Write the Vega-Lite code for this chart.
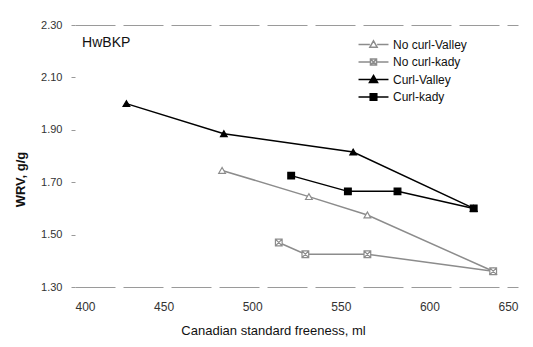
{
  "$schema": "https://vega.github.io/schema/vega-lite/v6.json",
  "width": 443,
  "height": 262,
  "autosize": "none",
  "padding": {"left": 75, "top": 25, "right": 15, "bottom": 60},
  "background": "white",
  "config": {
    "view": {"stroke": null},
    "font": "Liberation Sans",
    "axis": {"labelFont": "Liberation Sans", "titleFont": "Liberation Sans"}
  },
  "datasets": {
    "wrv": [
      {"series": "No curl-Valley", "csf": 483, "wrv": 1.745},
      {"series": "No curl-Valley", "csf": 532, "wrv": 1.645},
      {"series": "No curl-Valley", "csf": 565, "wrv": 1.575},
      {"series": "No curl-Valley", "csf": 636, "wrv": 1.36},
      {"series": "No curl-kady", "csf": 515, "wrv": 1.47},
      {"series": "No curl-kady", "csf": 530, "wrv": 1.425},
      {"series": "No curl-kady", "csf": 565, "wrv": 1.425},
      {"series": "No curl-kady", "csf": 636, "wrv": 1.36},
      {"series": "Curl-Valley", "csf": 429, "wrv": 2.0},
      {"series": "Curl-Valley", "csf": 484, "wrv": 1.885},
      {"series": "Curl-Valley", "csf": 557, "wrv": 1.815},
      {"series": "Curl-Valley", "csf": 625, "wrv": 1.6},
      {"series": "Curl-kady", "csf": 522, "wrv": 1.725},
      {"series": "Curl-kady", "csf": 554, "wrv": 1.665},
      {"series": "Curl-kady", "csf": 582, "wrv": 1.665},
      {"series": "Curl-kady", "csf": 625, "wrv": 1.6}
    ],
    "note": [{"label": "HwBKP", "csf": 404, "wrv": 2.23}]
  },
  "layer": [
    {
      "data": {"name": "wrv"},
      "mark": {"type": "line", "strokeCap": "butt"},
      "encoding": {
        "x": {
          "field": "csf", "type": "quantitative",
          "scale": {"domain": [400, 650], "nice": false, "zero": false},
          "axis": {
            "values": [400, 450, 500, 550, 600, 650],
            "domain": false, "ticks": false, "grid": false,
            "labelFontSize": 12, "labelColor": "#333333", "labelPadding": 14,
            "title": "Canadian standard freeness, ml",
            "titleFontSize": 13, "titleFontWeight": "normal", "titleColor": "#111111",
            "titleX": 198, "titleY": 43, "titleBaseline": "middle", "titleAnchor": "middle"
          }
        },
        "y": {
          "field": "wrv", "type": "quantitative",
          "scale": {"domain": [1.3, 2.3], "nice": false, "zero": false},
          "axis": {
            "values": [1.3, 1.5, 1.7, 1.9, 2.1, 2.3],
            "format": ".2f",
            "domain": false,
            "ticks": true, "tickSize": 4, "tickColor": "#999999",
            "labelFontSize": 11, "labelColor": "#333333", "labelPadding": 9,
            "grid": true, "gridColor": "#9a9a9a", "gridDash": [40, 8],
            "gridOpacity": {"condition": {"test": "abs(datum.value - 1.3) < 0.001 || abs(datum.value - 2.3) < 0.001", "value": 1}, "value": 0},
            "title": "WRV, g/g",
            "titleFontSize": 13, "titleFontWeight": "bold", "titleColor": "#111111",
            "titleX": -55, "titleY": 154, "titleAngle": 270, "titleBaseline": "middle", "titleAnchor": "middle"
          }
        },
        "stroke": {
          "field": "series", "type": "nominal",
          "scale": {
            "domain": ["No curl-Valley", "No curl-kady", "Curl-Valley", "Curl-kady"],
            "range": ["#8c8c8c", "#8c8c8c", "#000000", "#000000"]
          },
          "legend": {
            "title": null,
            "orient": "none", "legendX": 289, "legendY": 10,
            "symbolSize": 300,
            "labelFontSize": 12, "labelColor": "#111111", "labelOffset": 10,
            "rowPadding": 1.5, "padding": 0,
            "encode": {
              "symbols": {
                "update": {
                  "shape": {"signal": "datum.value === 'Curl-Valley' ? 'M-1.73,0H1.73M0,-0.47L0.47,0.35L-0.47,0.35Z' : datum.value === 'Curl-kady' ? 'M-1.73,0H1.73M-0.38,-0.38H0.38V0.38H-0.38Z' : datum.value === 'No curl-Valley' ? 'M-1.73,0H-0.42M0.42,0H1.73M0,-0.42L0.42,0.31L-0.42,0.31Z' : 'M-1.73,0H-0.35M0.35,0H1.73M-0.35,-0.35H0.35V0.35H-0.35ZM-0.35,-0.35L0.35,0.35M-0.35,0.35L0.35,-0.35'"},
                  "fill": {"signal": "datum.value === 'Curl-Valley' || datum.value === 'Curl-kady' ? '#000000' : '#ffffff'"},
                  "strokeWidth": {"signal": "datum.value === 'Curl-Valley' || datum.value === 'Curl-kady' ? 2.5 : 1.3"},
                  "opacity": {"value": 1}
                }
              }
            }
          }
        },
        "strokeWidth": {
          "field": "series", "type": "nominal",
          "scale": {
            "domain": ["No curl-Valley", "No curl-kady", "Curl-Valley", "Curl-kady"],
            "range": [1.5, 1.5, 2.6, 2.6]
          },
          "legend": null
        },
        "order": {"field": "csf", "type": "quantitative"}
      }
    },
    {
      "data": {"name": "wrv"},
      "mark": {"type": "point", "filled": true, "size": 45, "opacity": 1, "strokeWidth": 1.2},
      "encoding": {
        "x": {"field": "csf", "type": "quantitative"},
        "y": {"field": "wrv", "type": "quantitative"},
        "shape": {
          "condition": [
            {"test": "datum.series === 'Curl-kady'", "value": "square"},
            {"test": "datum.series === 'No curl-kady'", "value": "M-1,-1H1V1H-1ZM-1,-1L1,1M-1,1L1,-1"}
          ],
          "value": "triangle-up"
        },
        "fill": {
          "condition": {"test": "datum.series === 'Curl-kady' || datum.series === 'Curl-Valley'", "value": "#000000"},
          "value": "#ffffff"
        },
        "stroke": {"field": "series", "type": "nominal"}
      }
    },
    {
      "data": {"name": "note"},
      "mark": {"type": "text", "align": "left", "baseline": "middle", "fontSize": 14, "font": "Liberation Sans", "color": "#111111"},
      "encoding": {
        "x": {"field": "csf", "type": "quantitative"},
        "y": {"field": "wrv", "type": "quantitative"},
        "text": {"field": "label"}
      }
    }
  ]
}
